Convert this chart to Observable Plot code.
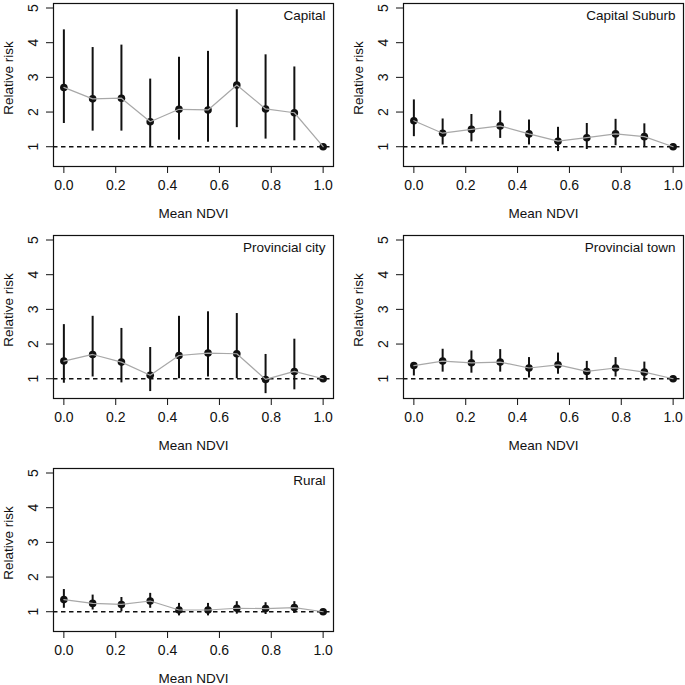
<!DOCTYPE html>
<html>
<head>
<meta charset="utf-8">
<script src="https://cdn.jsdelivr.net/npm/d3@7"></script>
<script src="https://cdn.jsdelivr.net/npm/@observablehq/plot@0.6"></script>
<style>
  body { margin: 0; background: white; }
  #wrap { position: relative; width: 685px; height: 685px; overflow: hidden; background: white; }
  #wrap > svg { position: absolute; }
</style>
</head>
<body>
<div id="wrap"></div>
<script>
const ndvi = [0, 0.111, 0.222, 0.333, 0.444, 0.556, 0.667, 0.778, 0.889, 1];
const xTicks = [0, 0.2, 0.4, 0.6, 0.8, 1.0];
const yTicks = [1, 2, 3, 4, 5];

const capitalRR = [2.71, 2.38, 2.40, 1.72, 2.08, 2.06, 2.78, 2.09, 1.98, 1.0];
const capitalLo = [1.67, 1.45, 1.45, 1.00, 1.19, 1.13, 1.55, 1.22, 1.17, 1.0];
const capitalHi = [4.37, 3.86, 3.93, 2.95, 3.58, 3.75, 4.95, 3.65, 3.30, 1.0];

const suburbRR = [1.75, 1.39, 1.50, 1.60, 1.37, 1.16, 1.26, 1.37, 1.29, 1.0];
const suburbLo = [1.29, 1.05, 1.14, 1.24, 1.05, 0.86, 0.92, 1.03, 0.98, 1.0];
const suburbHi = [2.35, 1.80, 1.93, 2.03, 1.77, 1.56, 1.67, 1.79, 1.66, 1.0];

const cityRR = [1.51, 1.70, 1.48, 1.10, 1.67, 1.74, 1.72, 0.98, 1.21, 1.0];
const cityLo = [0.87, 1.05, 0.88, 0.63, 1.00, 1.05, 1.00, 0.57, 0.68, 1.0];
const cityHi = [2.56, 2.80, 2.45, 1.90, 2.80, 2.93, 2.88, 1.70, 2.14, 1.0];

const townRR = [1.38, 1.51, 1.46, 1.48, 1.31, 1.40, 1.21, 1.31, 1.19, 1.0];
const townLo = [1.08, 1.19, 1.16, 1.19, 1.02, 1.13, 0.95, 1.05, 0.93, 1.0];
const townHi = [1.38, 1.85, 1.80, 1.84, 1.61, 1.74, 1.50, 1.61, 1.48, 1.0];

const ruralRR = [1.35, 1.24, 1.21, 1.31, 1.05, 1.05, 1.10, 1.09, 1.12, 1.0];
const ruralLo = [1.10, 1.05, 1.00, 1.10, 0.88, 0.88, 0.93, 0.92, 0.95, 1.0];
const ruralHi = [1.64, 1.48, 1.41, 1.53, 1.24, 1.24, 1.29, 1.26, 1.29, 1.0];

const panelNames = ["Capital", "Capital Suburb", "Provincial city", "Provincial town", "Rural"];
const panelSeries = [
  [capitalRR, capitalLo, capitalHi],
  [suburbRR, suburbLo, suburbHi],
  [cityRR, cityLo, cityHi],
  [townRR, townLo, townHi],
  [ruralRR, ruralLo, ruralHi]
];

const colLeft = [0, 350];
const rowTop = [-1, 231, 464];
const font = "'Liberation Sans', Arial, Helvetica, sans-serif";

panelNames.forEach((name, i) => {
  const [rr, lo, hi] = panelSeries[i];
  const data = ndvi.map((x, j) => ({x, rr: rr[j], lo: lo[j], hi: hi[j]}));
  const bars = data.filter(d => d.hi > d.lo);
  const chart = Plot.plot({
    width: 335,
    height: 230,
    marginLeft: 53,
    marginRight: 2,
    marginTop: 4,
    marginBottom: 63,
    style: {fontFamily: font, fontSize: "13.5px", color: "#111", background: "white", overflow: "visible"},
    x: {domain: [-0.04, 1.04]},
    y: {domain: [0.43, 5.13]},
    marks: [
      Plot.ruleY([1], {stroke: "#111", strokeWidth: 1.3, strokeDasharray: "4.5,3.5"}),
      Plot.ruleX(bars, {x: "x", y1: "lo", y2: "hi", stroke: "#111", strokeWidth: 2}),
      Plot.dot(data, {x: "x", y: "rr", r: 3.8, fill: "#111", stroke: "none"}),
      Plot.line(data, {x: "x", y: "rr", stroke: "#a8a8a8", strokeWidth: 1.2}),
      Plot.frame({stroke: "#111", strokeWidth: 1.2}),
      Plot.axisX({ticks: xTicks, tickSize: 7, tickPadding: 7, tickFormat: d => d.toFixed(1), label: null, fontSize: 14, stroke: "#111"}),
      Plot.axisY({ticks: yTicks, tickSize: 7, tickFormat: () => "", label: null, stroke: "#111"}),
      Plot.text(yTicks, {y: d => d, text: d => String(d), frameAnchor: "left", dx: -20, rotate: -90, textAnchor: "middle", lineAnchor: "middle", fontSize: 14, fill: "#111"}),
      Plot.text(["Mean NDVI"], {frameAnchor: "bottom", dy: 47, lineAnchor: "middle", fontSize: 13.5, fill: "#111"}),
      Plot.text(["Relative risk"], {frameAnchor: "left", dx: -44.5, dy: -7, rotate: -90, textAnchor: "middle", lineAnchor: "middle", fontSize: 13.5, fill: "#111"}),
      Plot.text([name], {frameAnchor: "top-right", dx: -8, dy: 12, textAnchor: "end", lineAnchor: "middle", fontSize: 13.5, fill: "#111"})
    ]
  });
  chart.style.left = colLeft[i % 2] + "px";
  chart.style.top = rowTop[Math.floor(i / 2)] + "px";
  document.getElementById("wrap").appendChild(chart);
});
</script>
</body>
</html>
